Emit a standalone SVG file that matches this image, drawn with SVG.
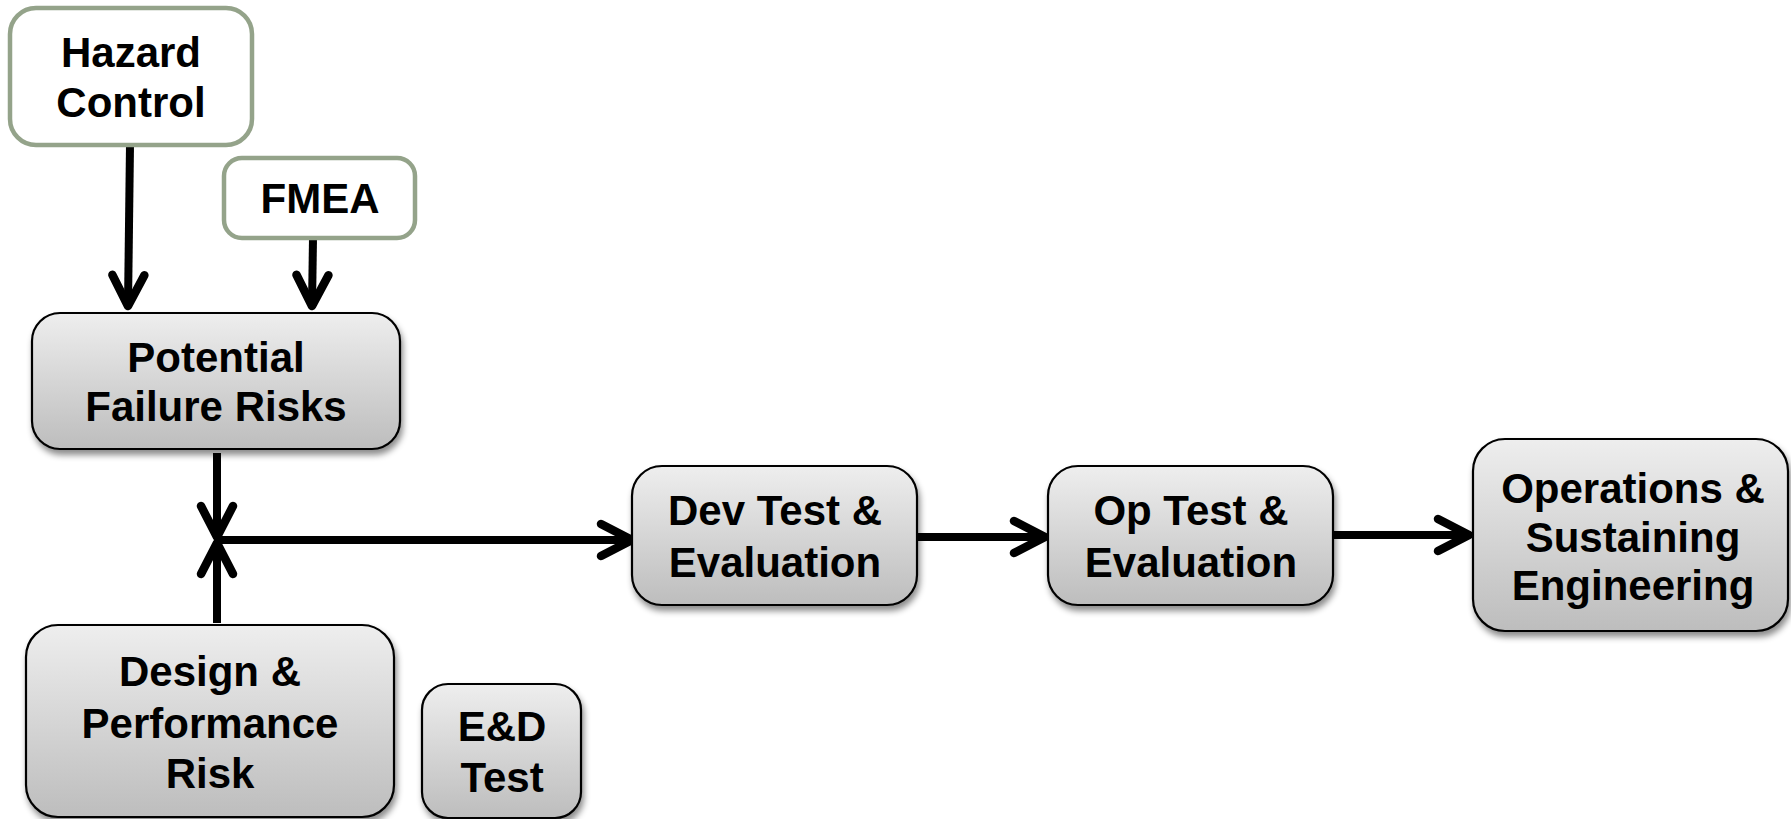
<svg xmlns="http://www.w3.org/2000/svg" width="1791" height="819" viewBox="0 0 1791 819">
<style>
text{font-family:"Liberation Sans",Arial,sans-serif;font-weight:bold;font-size:42px;fill:#000;text-anchor:middle}
.g{fill:url(#grad);stroke:#000;stroke-width:2.2;filter:url(#sh)}
.w{fill:#fff;stroke:#94a38a;stroke-width:4.5}
.c{fill:none;stroke:#000;stroke-width:8;marker-end:url(#ah)}
</style>
<defs>
<linearGradient id="grad" x1="0" y1="0" x2="0" y2="1">
<stop offset="0" stop-color="#eeeeee"/>
<stop offset="1" stop-color="#bdbdbd"/>
</linearGradient>
<filter id="sh" x="-10%" y="-10%" width="125%" height="130%">
<feDropShadow dx="2" dy="5" stdDeviation="3" flood-color="#000" flood-opacity="0.45"/>
</filter>
<marker id="ah" markerUnits="userSpaceOnUse" orient="auto" overflow="visible" refX="0" refY="0" markerWidth="1" markerHeight="1">
<path d="M-31,-16 L0,0 L-31,16" fill="none" stroke="#000" stroke-width="8.5" stroke-linecap="round" stroke-linejoin="round"/>
</marker>
</defs>
<g id="connectors">
<path class="c" d="M130,145 L128,306"/>
<path class="c" d="M313,238 L312,306"/>
<path class="c" d="M217,453 L217,537"/>
<path class="c" d="M217,623 L217,543"/>
<path class="c" d="M217,540 L632,540"/>
<path class="c" d="M917,537 L1045,537"/>
<path class="c" d="M1333,535 L1469,535"/>
</g>
<g id="hazard-control">
<rect class="w" x="10" y="8" width="242" height="137" rx="26"/>
<text x="131" y="67">Hazard</text>
<text x="131" y="117">Control</text>
</g>
<g id="fmea">
<rect class="w" x="224" y="158" width="191" height="80" rx="18"/>
<text x="320" y="213">FMEA</text>
</g>
<g id="potential-failure-risks">
<rect class="g" x="32" y="313" width="368" height="136" rx="28"/>
<text x="216" y="372">Potential</text>
<text x="216" y="421">Failure Risks</text>
</g>
<g id="design-performance-risk">
<rect class="g" x="26" y="625" width="368" height="192" rx="32"/>
<text x="210" y="686">Design &amp;</text>
<text x="210" y="738">Performance</text>
<text x="210" y="788">Risk</text>
</g>
<g id="ed-test">
<rect class="g" x="422" y="684" width="159" height="134" rx="26"/>
<text x="502" y="741">E&amp;D</text>
<text x="502" y="792">Test</text>
</g>
<g id="dev-test">
<rect class="g" x="632" y="466" width="285" height="139" rx="30"/>
<text x="775" y="525">Dev Test &amp;</text>
<text x="775" y="577">Evaluation</text>
</g>
<g id="op-test">
<rect class="g" x="1048" y="466" width="285" height="139" rx="30"/>
<text x="1191" y="525">Op Test &amp;</text>
<text x="1191" y="577">Evaluation</text>
</g>
<g id="operations">
<rect class="g" x="1473" y="439" width="315" height="192" rx="32"/>
<text x="1633" y="503">Operations &amp;</text>
<text x="1633" y="552">Sustaining</text>
<text x="1633" y="600">Engineering</text>
</g>
</svg>
